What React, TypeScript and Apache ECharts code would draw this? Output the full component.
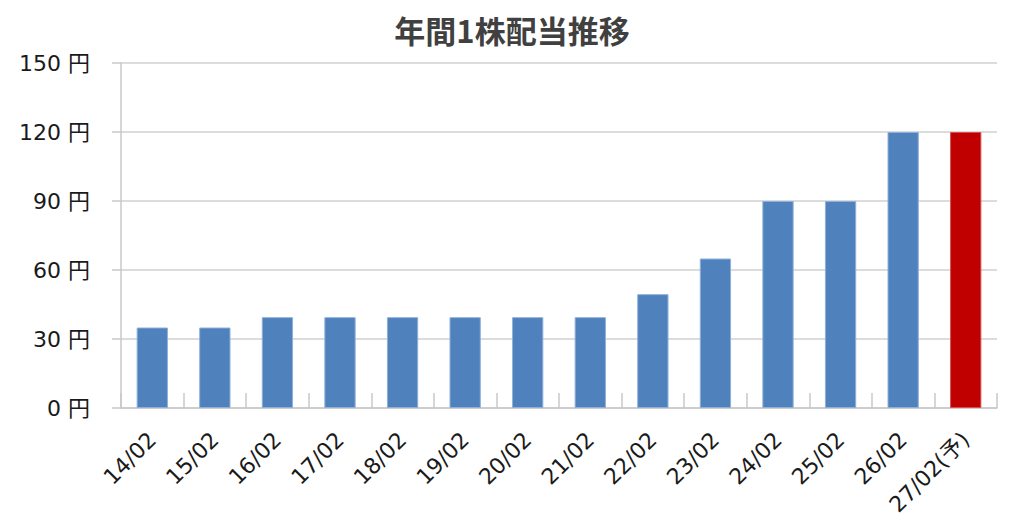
import React, { useEffect, useRef } from "react";
import * as echarts from "echarts";

const categories = ["14/02", "15/02", "16/02", "17/02", "18/02", "19/02", "20/02", "21/02", "22/02", "23/02", "24/02", "25/02", "26/02", "27/02(予)"];
const dividends = [35, 35, 39.5, 39.5, 39.5, 39.5, 39.5, 39.5, 49.5, 65, 90, 90, 120, 120];
const forecastIndex = [13];
const yTicks = [0, 30, 60, 90, 120, 150];

const FONT = "'DejaVu Sans', 'Noto Sans CJK JP', sans-serif";

export default function App() {
  const ref = useRef<HTMLDivElement>(null);
  useEffect(() => {
    if (!ref.current) return;
    const chart = echarts.init(ref.current, undefined, { renderer: "svg" });
    chart.setOption({
      animation: false,
      title: {
        text: "年間1株配当推移",
        left: "center",
        top: 9,
        textStyle: { fontFamily: "'Noto Sans CJK JP', sans-serif", fontWeight: "bold", fontSize: 31, color: "#404040" },
      },
      grid: { left: 121, right: 27, top: 63, bottom: 119 },
      xAxis: {
        type: "category",
        data: categories,
        boundaryGap: true,
        axisLine: { show: true, lineStyle: { color: "#c8c8c8", width: 1.5 } },
        axisTick: { show: true, inside: true, length: 15, alignWithLabel: false, lineStyle: { color: "#c8c8c8", width: 1.5 } },
        axisLabel: { rotate: 45, margin: 28, interval: 0, fontFamily: FONT, fontSize: 22, color: "#1a1a1a" },
      },
      yAxis: {
        type: "value",
        min: 0,
        max: yTicks[yTicks.length - 1],
        interval: 30,
        axisLine: { show: true, lineStyle: { color: "#c8c8c8", width: 1.5 } },
        axisTick: { show: true, inside: false, length: 9, lineStyle: { color: "#c8c8c8", width: 1.5 } },
        splitLine: { show: true, lineStyle: { color: "#d0d0d0", width: 1.5 } },
        axisLabel: { margin: 31, fontFamily: FONT, fontSize: 22, color: "#1a1a1a", formatter: (v: number) => `${v} 円` },
      },
      series: [
        {
          type: "bar",
          data: dividends.map((v, i) => ({
            value: v,
            itemStyle: forecastIndex.includes(i)
              ? { color: "#c00000", borderColor: "#d45050", borderWidth: 1 }
              : { color: "#4f81bd", borderColor: "#8fb0d8", borderWidth: 1 },
          })),
          barWidth: "50%",
        },
      ],
    });
    return () => chart.dispose();
  }, []);
  return <div ref={ref} style={{ position: "absolute", left: 0, top: 0, width: 1024, height: 527 }} />;
}
